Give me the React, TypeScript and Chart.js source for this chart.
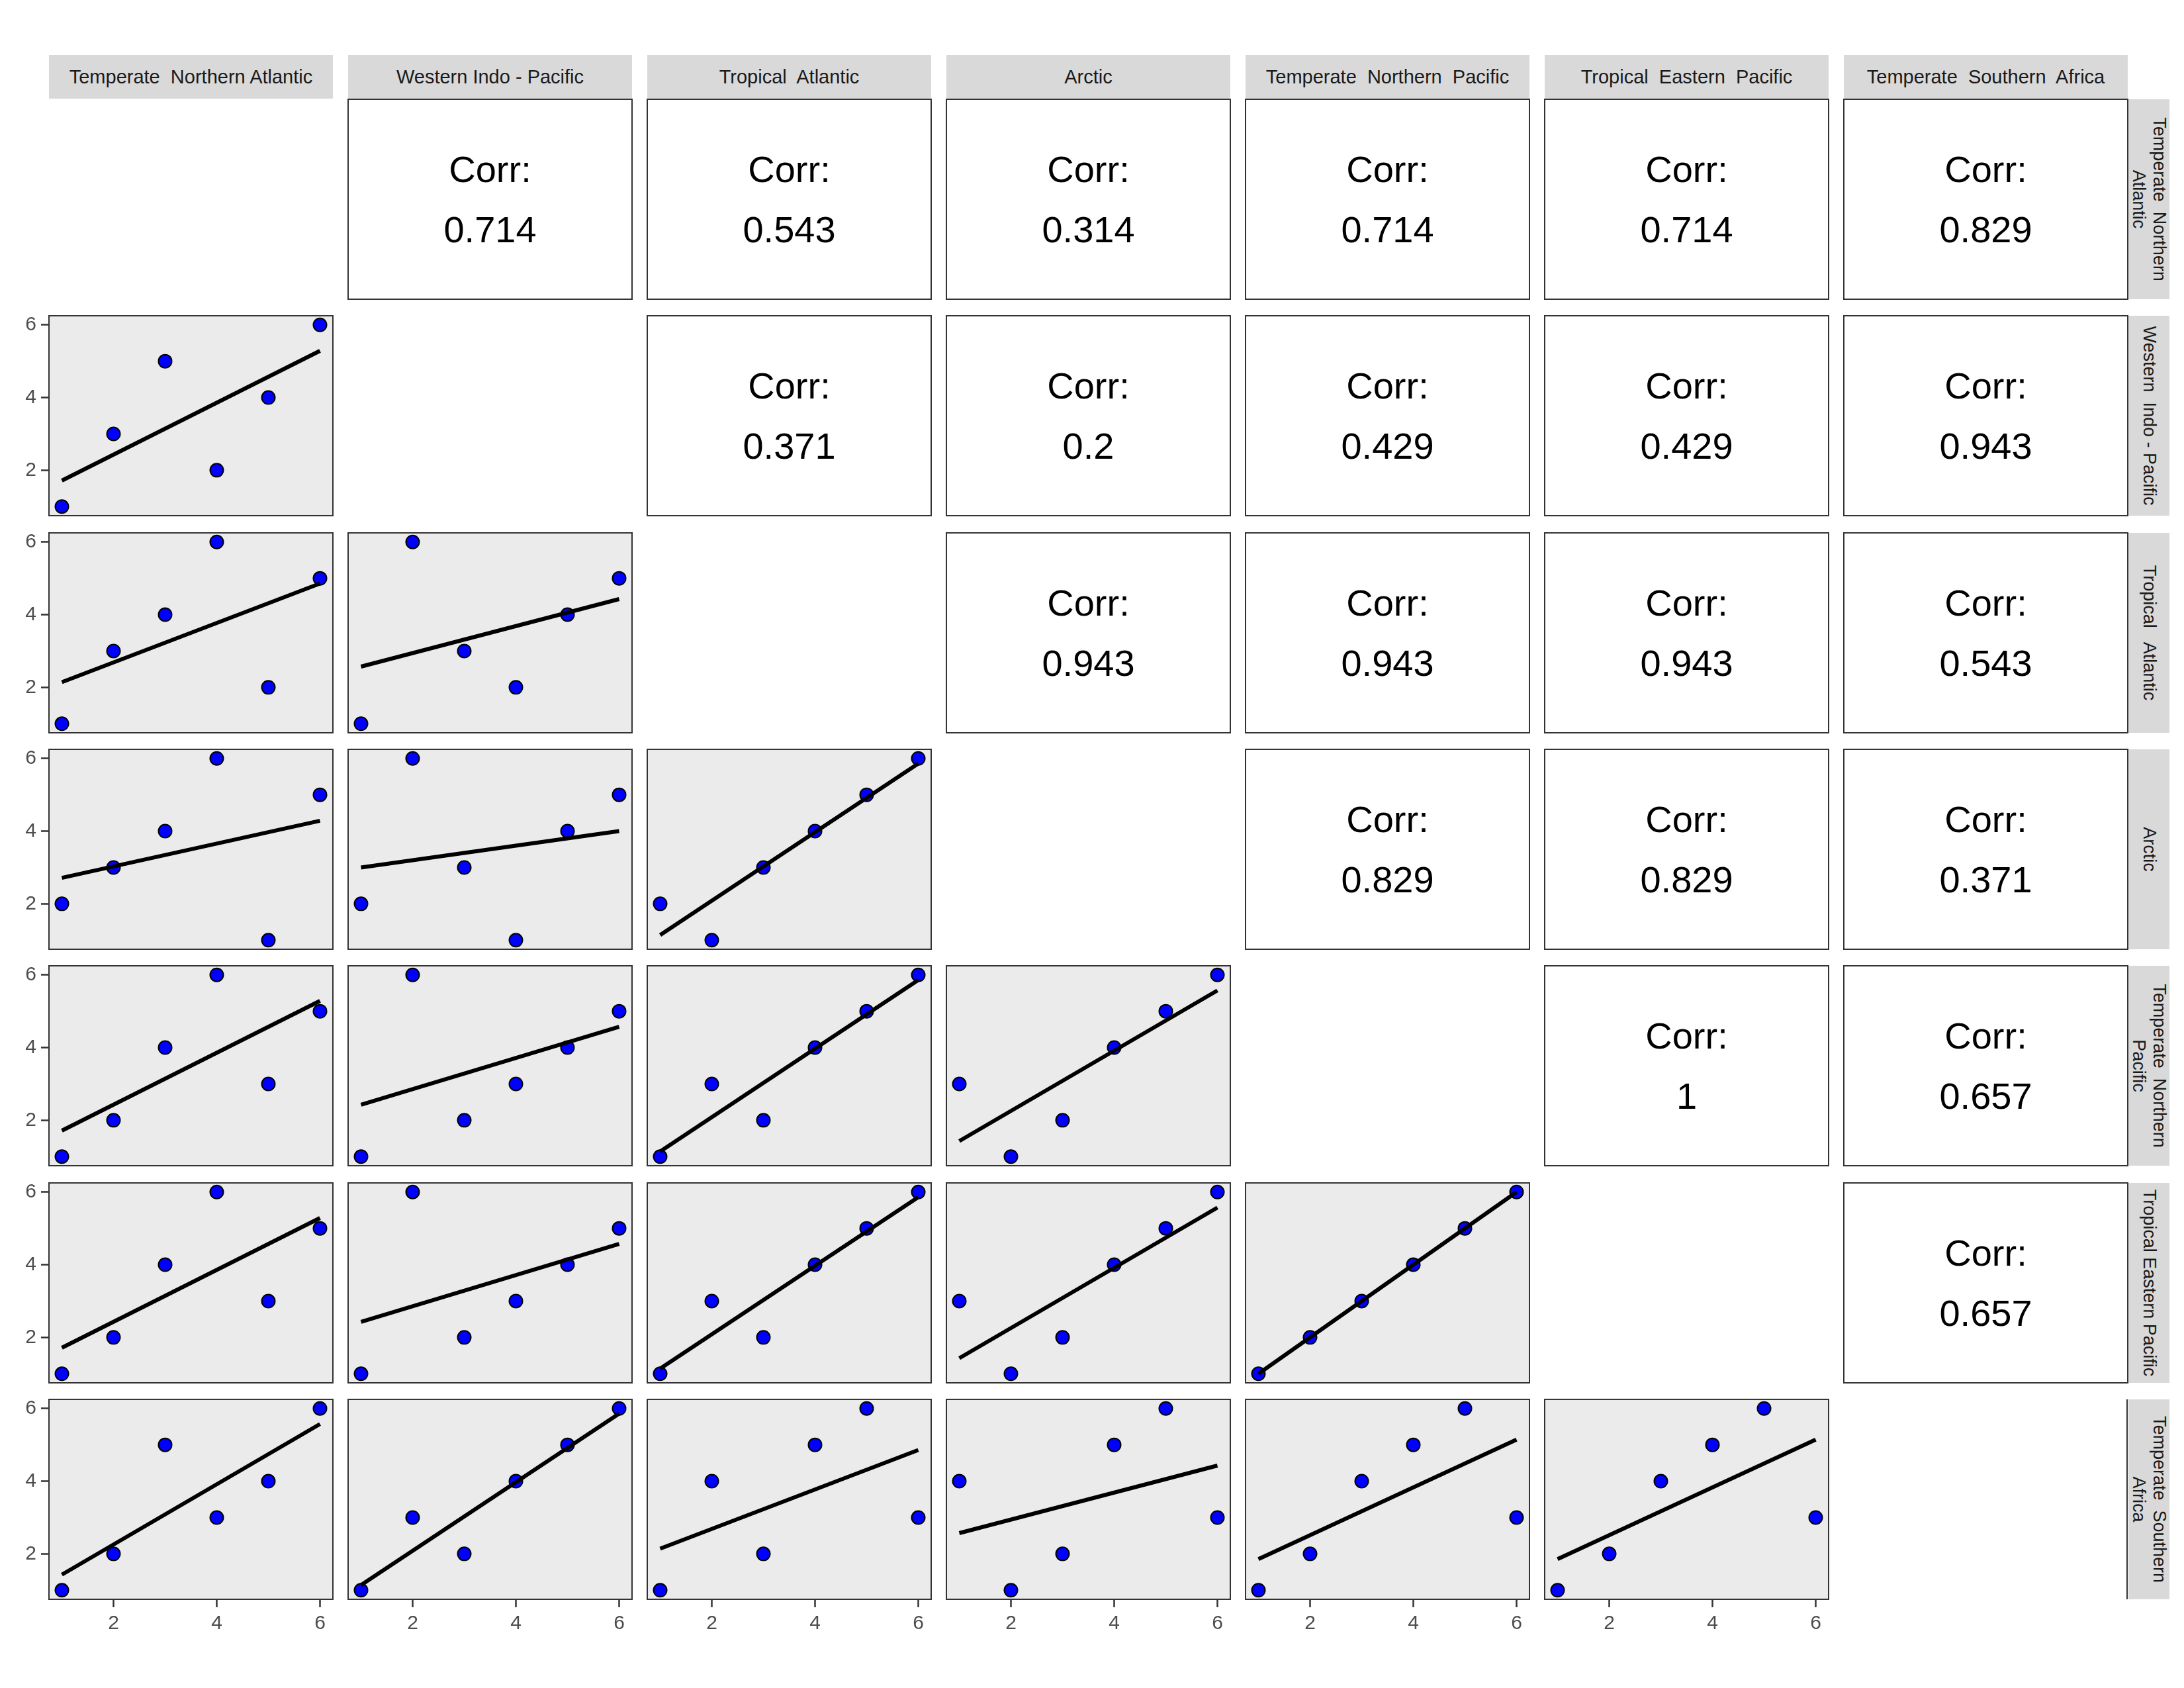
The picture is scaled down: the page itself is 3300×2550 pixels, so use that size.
import React, { useEffect, useRef } from "react";
import { Chart, registerables } from "chart.js";
Chart.register(...registerables);

// ---------- data ----------
const colLabels = [
  "Temperate  Northern Atlantic",
  "Western Indo - Pacific",
  "Tropical  Atlantic",
  "Arctic",
  "Temperate  Northern  Pacific",
  "Tropical  Eastern  Pacific",
  "Temperate  Southern  Africa",
];
const rowLabels = [
  "Temperate  Northern\nAtlantic",
  "Western  Indo - Pacific",
  "Tropical   Atlantic",
  "Arctic",
  "Temperate  Northern\nPacific",
  "Tropical Eastern Pacific",
  "Temperate  Southern\nAfrica",
];

const TNA = [1, 2, 3, 4, 5, 6];
const WIP = [1, 3, 5, 2, 4, 6];
const TA = [1, 3, 4, 6, 2, 5];
const AR = [2, 3, 4, 6, 1, 5];
const TNP = [1, 2, 4, 6, 3, 5];
const TEP = [1, 2, 4, 6, 3, 5];
const TSA = [1, 2, 5, 3, 4, 6];
const series = [TNA, WIP, TA, AR, TNP, TEP, TSA];

// upper-triangle correlation labels, row by row
const corrTNA = ["0.714", "0.543", "0.314", "0.714", "0.714", "0.829"];
const corrWIP = ["0.371", "0.2", "0.429", "0.429", "0.943"];
const corrTA = ["0.943", "0.943", "0.943", "0.543"];
const corrAR = ["0.829", "0.829", "0.371"];
const corrTNP = ["1", "0.657"];
const corrTEP = ["0.657"];
const corrRows = [corrTNA, corrWIP, corrTA, corrAR, corrTNP, corrTEP, []];

const tickValues = [2, 4, 6];
const axisMin = 0.75;
const axisMax = 6.25;

// ---------- layout ----------
const FONT = "'Liberation Sans', Arial, Helvetica, sans-serif";
const N = 7;
const PW = 429;
const PH = 302;
const colLeft = (j: number) => Math.round(74 + j * 452);
const rowTop = (i: number) => Math.round(150 + i * 327.33);
const YAXW = 74;
const XAXH = 70;
const M = 4;

function fit(xs: number[], ys: number[]) {
  const n = xs.length;
  const mx = xs.reduce((s, v) => s + v, 0) / n;
  const my = ys.reduce((s, v) => s + v, 0) / n;
  let sxy = 0, sxx = 0;
  for (let k = 0; k < n; k++) {
    sxy += (xs[k] - mx) * (ys[k] - my);
    sxx += (xs[k] - mx) * (xs[k] - mx);
  }
  const b = sxy / sxx;
  return { a: my - b * mx, b };
}

const panelBg = {
  id: "panelBg",
  beforeDraw(chart: any) {
    const { ctx, chartArea } = chart;
    ctx.save();
    ctx.fillStyle = "#EBEBEB";
    ctx.fillRect(chartArea.left, chartArea.top, chartArea.right - chartArea.left, chartArea.bottom - chartArea.top);
    ctx.restore();
  },
  afterDraw(chart: any) {
    const { ctx, chartArea } = chart;
    ctx.save();
    ctx.strokeStyle = "#333333";
    ctx.lineWidth = 2;
    ctx.strokeRect(chartArea.left, chartArea.top, chartArea.right - chartArea.left, chartArea.bottom - chartArea.top);
    ctx.restore();
  },
};

function axisOpts(show: boolean, axis: "x" | "y") {
  const o: any = {
    type: "linear",
    position: axis === "x" ? "bottom" : "left",
    min: axisMin,
    max: axisMax,
    display: show,
    grid: {
      drawOnChartArea: false,
      drawTicks: true,
      tickLength: 12,
      tickWidth: 2.5,
      tickColor: "#333333",
      color: "#333333",
    },
    border: { display: false },
    ticks: {
      color: "#4D4D4D",
      font: { size: 30, family: FONT },
      padding: 7,
      autoSkip: false,
      maxRotation: 0,
    },
    afterBuildTicks: (s: any) => {
      s.ticks = tickValues.map((v) => ({ value: v }));
    },
  };
  if (show) {
    o.afterFit = (s: any) => {
      if (axis === "y") s.width = YAXW;
      else s.height = XAXH;
      s.paddingTop = 0;
      s.paddingBottom = 0;
      s.paddingLeft = 0;
      s.paddingRight = 0;
    };
  }
  return o;
}

function ScatterPanel({ r, c }: { r: number; c: number }) {
  const ref = useRef<HTMLCanvasElement>(null);
  const showY = c === 0;
  const showX = r === N - 1;
  const left = showY ? colLeft(c) - YAXW : colLeft(c) - M;
  const top = rowTop(r) - M;
  const w = (showY ? YAXW : M) + PW + M;
  const h = M + PH + (showX ? XAXH : M);
  useEffect(() => {
    const xs = series[c];
    const ys = series[r];
    const pts = xs.map((x, k) => ({ x, y: ys[k] }));
    const { a, b } = fit(xs, ys);
    const x0 = Math.min(...xs);
    const x1 = Math.max(...xs);
    const line = [
      { x: x0, y: a + b * x0 },
      { x: x1, y: a + b * x1 },
    ];
    const chart = new Chart(ref.current as HTMLCanvasElement, {
      type: "scatter",
      data: {
        datasets: [
          {
            type: "line",
            data: line,
            borderColor: "#000000",
            borderWidth: 6,
            pointRadius: 0,
            fill: false,
            tension: 0,
            order: 0,
          } as any,
          {
            data: pts,
            backgroundColor: "#0000FF",
            borderColor: "#000000",
            borderWidth: 2,
            pointRadius: 10,
            order: 1,
          },
        ],
      },
      options: {
        animation: false,
        responsive: false,
        events: [],
        layout: {
          autoPadding: false,
          padding: { left: showY ? 0 : M, right: M, top: M, bottom: showX ? 0 : M },
        },
        plugins: { legend: { display: false }, tooltip: { enabled: false } },
        scales: {
          x: axisOpts(showX, "x"),
          y: axisOpts(showY, "y"),
        },
      } as any,
      plugins: [panelBg],
    });
    return () => chart.destroy();
  }, []);
  return (
    <canvas
      ref={ref}
      width={w}
      height={h}
      style={{ position: "absolute", left, top, width: w, height: h }}
    />
  );
}

function CorrBox({ r, c, label }: { r: number; c: number; label: string }) {
  return (
    <div
      style={{
        position: "absolute",
        left: colLeft(c) - 1,
        top: rowTop(r) - 1,
        width: PW + 2,
        height: PH + 2,
        boxSizing: "border-box",
        border: "2px solid #333333",
        background: "#FFFFFF",
        display: "flex",
        flexDirection: "column",
        alignItems: "center",
        justifyContent: "center",
        fontFamily: FONT,
        fontSize: 56,
        color: "#000000",
      }}
    >
      <div style={{ lineHeight: "91px" }}>Corr:</div>
      <div style={{ lineHeight: "91px" }}>{label}</div>
    </div>
  );
}

export default function App() {
  const panels: React.ReactNode[] = [];
  for (let r = 0; r < N; r++) {
    for (let c = 0; c < N; c++) {
      if (r > c) panels.push(<ScatterPanel key={`s${r}-${c}`} r={r} c={c} />);
      else if (r < c)
        panels.push(<CorrBox key={`c${r}-${c}`} r={r} c={c} label={corrRows[r][c - r - 1]} />);
    }
  }
  return (
    <div
      style={{
        position: "absolute",
        left: 0,
        top: 0,
        width: 3300,
        height: 2550,
        background: "#FFFFFF",
        overflow: "hidden",
        fontFamily: FONT,
      }}
    >
      {colLabels.map((t, j) => (
        <div
          key={`t${j}`}
          style={{
            position: "absolute",
            left: colLeft(j),
            top: 83,
            width: PW,
            height: 66,
            background: "#D9D9D9",
            color: "#1A1A1A",
            fontSize: 29,
            display: "flex",
            alignItems: "center",
            justifyContent: "center",
            whiteSpace: "pre",
          }}
        >
          {t}
        </div>
      ))}
      {rowLabels.map((t, i) => (
        <div
          key={`r${i}`}
          style={{
            position: "absolute",
            left: 3216,
            top: rowTop(i),
            width: 62,
            height: PH,
            background: "#D9D9D9",
          }}
        >
          <div
            style={{
              position: "absolute",
              left: "50%",
              top: "50%",
              transform: "translate(-50%, -50%) rotate(90deg)",
              whiteSpace: "pre",
              textAlign: "center",
              fontSize: 27,
              lineHeight: "31px",
              color: "#1A1A1A",
            }}
          >
            {t}
          </div>
        </div>
      ))}
      <div
        style={{
          position: "absolute",
          left: 3213,
          top: rowTop(6),
          width: 2,
          height: PH,
          background: "#333333",
        }}
      />
      {panels}
    </div>
  );
}
